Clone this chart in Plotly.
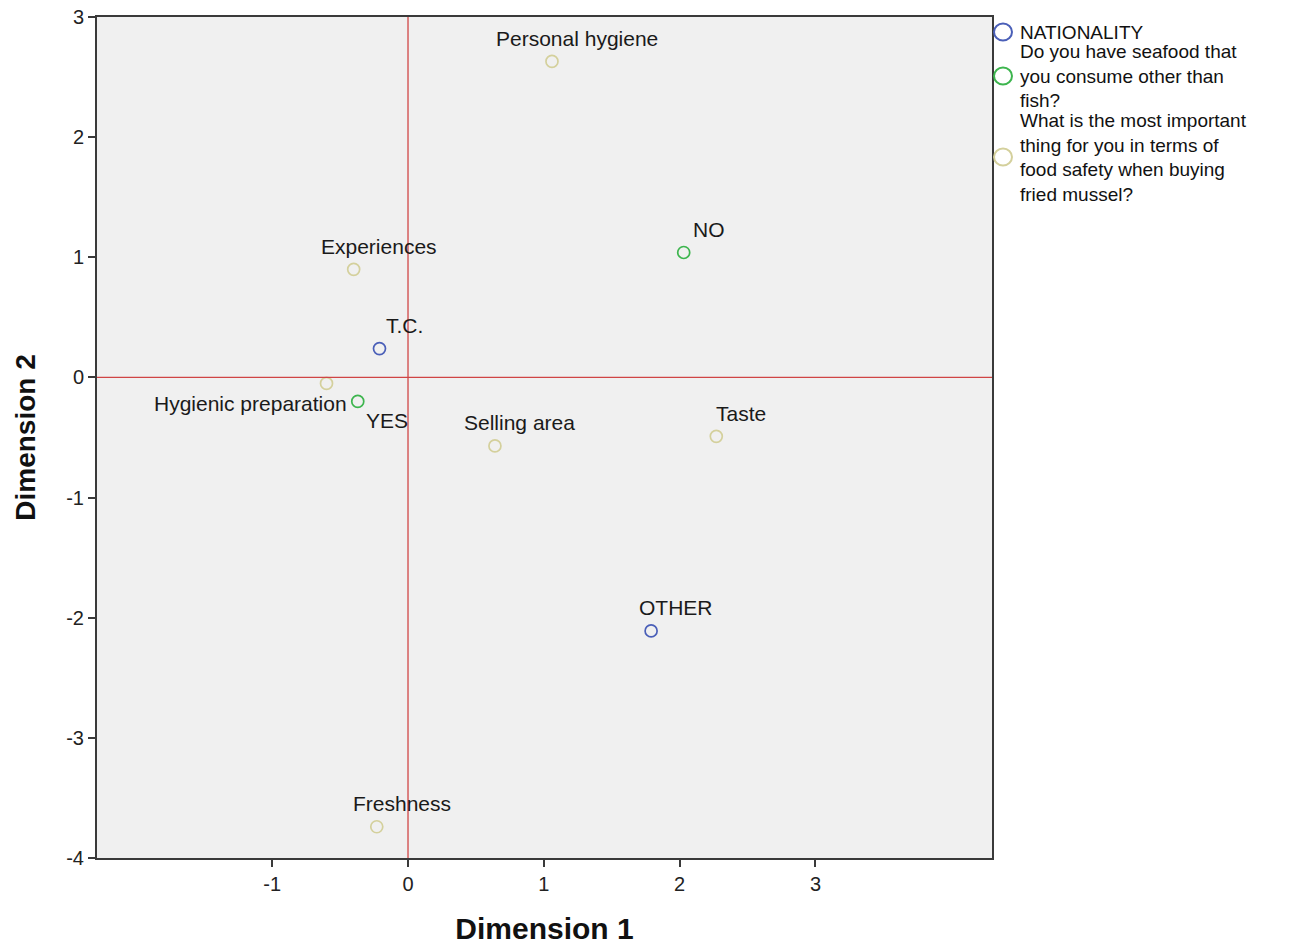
import plotly.graph_objects as go

# Category points of the correspondence analysis (Dimension 1, Dimension 2)
nat_labels = ["T.C.", "OTHER"]
nat_dim1 = [-0.21, 1.79]
nat_dim2 = [0.24, -2.11]

seafood_labels = ["NO", "YES"]
seafood_dim1 = [2.03, -0.37]
seafood_dim2 = [1.04, -0.20]

safety_labels = ["Personal hygiene", "Experiences", "Hygienic preparation",
                 "Selling area", "Taste", "Freshness"]
safety_dim1 = [1.06, -0.40, -0.60, 0.64, 2.27, -0.23]
safety_dim2 = [2.63, 0.90, -0.05, -0.57, -0.49, -3.74]

x_ticks = [-1, 0, 1, 2, 3]
y_ticks = [-4, -3, -2, -1, 0, 1, 2, 3]

legend_titles = [
    ["NATIONALITY"],
    ["Do you have seafood that", "you consume other than", "fish?"],
    ["What is the most important", "thing for you in terms of",
     "food safety when buying", "fried mussel?"],
]
group_colors = ["#4a5fb8", "#3db54e", "#d4d09c"]
group_labels = [nat_labels, seafood_labels, safety_labels]
group_x = [nat_dim1, seafood_dim1, safety_dim1]
group_y = [nat_dim2, seafood_dim2, safety_dim2]

FONT = "Liberation Sans, Arial, sans-serif"
W, H = 1301, 945
M_L, M_R, M_T, M_B = 97, 309, 17, 87
PW, PH = W - M_L - M_R, H - M_T - M_B

# label placement (pixel shifts from the point, anchor)
label_place = {
    "Hygienic preparation": (22, -20, "right"),
    "YES": (29, -19, "center"),
}

fig = go.Figure()
annotations = []
shapes = []
for title, color, labels, xs, ys in zip(legend_titles, group_colors, group_labels, group_x, group_y):
    fig.add_trace(go.Scatter(
        x=xs, y=ys, mode="markers", name=" ".join(title), showlegend=False,
        hoverinfo="text", text=labels,
        marker=dict(symbol="circle-open", size=12, color=color, line=dict(width=1.7, color=color)),
    ))
    for lab, x, y in zip(labels, xs, ys):
        dx, dy, anchor = label_place.get(lab, (25, 23, "center"))
        annotations.append(dict(
            x=x, y=y, xref="x", yref="y", text=lab, showarrow=False,
            xshift=dx, yshift=dy, xanchor=anchor, yanchor="middle",
            font=dict(family=FONT, size=21, color="#1a1a1a"),
        ))


def px_to_paper(px, py):
    return (px - M_L) / PW, (H - M_B - py) / PH


# legend drawn to the right of the plot: symbol circle + wrapped group title
legend_centres = [32, 76, 157]
for title, color, centre_py in zip(legend_titles, group_colors, legend_centres):
    cx, cy = px_to_paper(1003, centre_py)
    shapes.append(dict(type="circle", xref="paper", yref="paper",
                       xsizemode="pixel", ysizemode="pixel", xanchor=cx, yanchor=cy,
                       x0=-9, x1=9, y0=-8.5, y1=8.5,
                       line=dict(color=color, width=2)))
    tx, ty = px_to_paper(1018, centre_py)
    annotations.append(dict(
        x=tx, y=ty, xref="paper", yref="paper", text="<br>".join(title),
        showarrow=False, xanchor="left", yanchor="middle", align="left",
        font=dict(family=FONT, size=19, color="#111"),
    ))

# reference lines through the origin
shapes.append(dict(type="line", xref="x", yref="paper", x0=0, x1=0, y0=0, y1=1,
                   line=dict(color="#d04545", width=1.3)))
shapes.append(dict(type="line", xref="paper", yref="y", x0=0, x1=1, y0=0, y1=0,
                   line=dict(color="#d04545", width=1.3)))

axis_common = dict(
    showgrid=False, zeroline=False, showline=True, mirror=True, automargin=False,
    linecolor="#3a3a3a", linewidth=2, ticks="outside", ticklen=7, tickwidth=2,
    tickcolor="#3a3a3a", tickfont=dict(family=FONT, size=20, color="#222"),
)

fig.update_layout(
    width=W, height=H,
    margin=dict(l=M_L, r=M_R, t=M_T, b=M_B),
    paper_bgcolor="white", plot_bgcolor="#f0f0f0",
    annotations=annotations, shapes=shapes,
    xaxis=dict(range=[-2.29, 4.30], tickvals=x_ticks, ticktext=[str(v) for v in x_ticks],
               title=dict(text="<b>Dimension 1</b>", standoff=24,
                          font=dict(family=FONT, size=30, color="#111")),
               **axis_common),
    yaxis=dict(range=[-4, 3], tickvals=y_ticks, ticktext=[str(v) for v in y_ticks],
               title=dict(text="<b>Dimension 2</b>", standoff=22,
                          font=dict(family=FONT, size=28, color="#111")),
               **axis_common),
    showlegend=False,
)

fig.write_html("out.html")
